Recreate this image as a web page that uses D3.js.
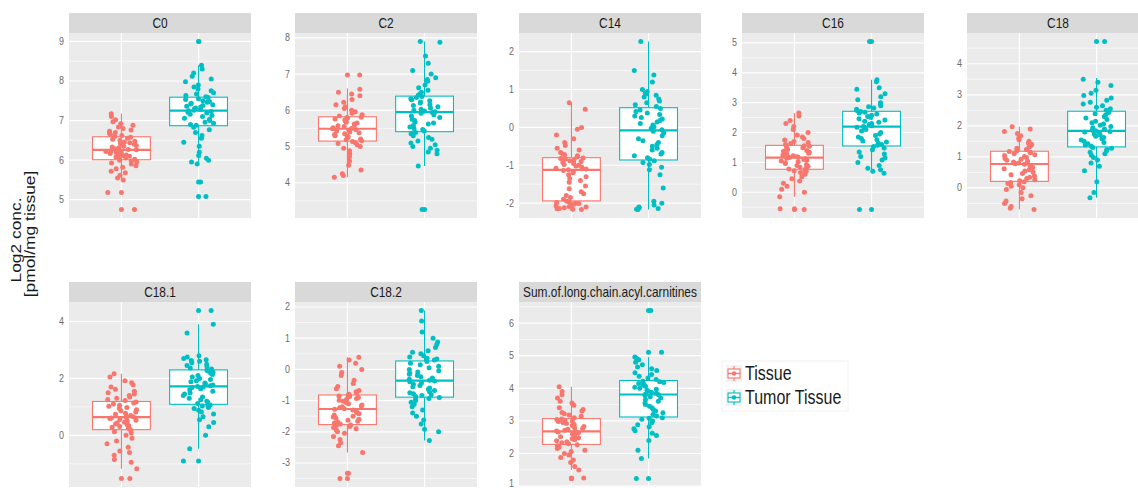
<!DOCTYPE html>
<html>
<head>
<meta charset="utf-8">
<script src="https://cdn.jsdelivr.net/npm/d3@7"></script>
<style>
  body { margin: 0; background: #fff; }
  svg text { font-family: "Liberation Sans", Arial, sans-serif; }
</style>
</head>
<body>
<svg id="chart" width="1138" height="488"></svg>
<script>
// facets and groups
var categories = ["C0", "C2", "C14", "C16", "C18", "C18.1", "C18.2", "Sum.of.long.chain.acyl.carnitines"];
var groups = ["Tissue", "Tumor Tissue"];
var groupColors = ["#F8766D", "#00BFC4"];

// y breaks per facet
var tickValues = [
  [5, 6, 7, 8, 9], [4, 5, 6, 7, 8], [-2, -1, 0, 1, 2], [0, 1, 2, 3, 4, 5],
  [0, 1, 2, 3, 4], [0, 2, 4], [-3, -2, -1, 0, 1, 2], [1, 2, 3, 4, 5, 6]
];

// box stats: [lower whisker, q1, median, q3, upper whisker]
var tissueBox = [
  [5.5, 6.01, 6.26, 6.59, 7.17], [4.15, 5.15, 5.49, 5.82, 6.6], [-2.17, -1.94, -1.12, -0.8, 0.65],
  [-0.15, 0.77, 1.16, 1.57, 2.65], [-0.7, 0.21, 0.77, 1.18, 1.97], [-1.17, 0.2, 0.64, 1.19, 2.16],
  [-2.66, -1.77, -1.27, -0.82, 0.39], [1.49, 2.28, 2.68, 3.07, 4.05]
];
var tumorBox = [
  [5.9, 6.87, 7.25, 7.59, 8.4], [4.46, 5.41, 5.95, 6.39, 7.9], [-2.17, -0.86, -0.08, 0.52, 2.27],
  [0.64, 1.55, 2.2, 2.71, 3.77], [-0.32, 1.32, 1.84, 2.47, 3.54], [-0.47, 1.09, 1.72, 2.3, 3.9],
  [-2.28, -0.89, -0.36, 0.27, 1.89], [1.85, 3.12, 3.81, 4.24, 4.96]
];

// individual observations (log2 conc.)
var tissueValues = [
  [4.75, 5.18, 5.5, 5.55, 5.62, 5.68, 5.72, 5.78, 5.82, 5.86, 5.9, 5.93, 5.96, 5.98, 6.0,
   6.02, 6.04, 6.06, 6.08, 6.1, 6.11, 6.13, 6.15, 6.17, 6.19, 6.2, 6.22, 6.24, 6.25, 6.26,
   6.27, 6.29, 6.31, 6.33, 6.35, 6.37, 6.4, 6.42, 6.44, 6.46, 6.48, 6.5, 6.53, 6.55, 6.58,
   6.6, 6.62, 6.65, 6.68, 6.7, 6.73, 6.76, 6.8, 6.84, 6.88, 6.92, 6.97, 7.02, 7.1, 7.17],
  [4.15, 4.2, 4.25, 4.35, 4.48, 4.6, 4.72, 4.8, 4.88, 4.95, 5.0, 5.05, 5.08, 5.11, 5.14,
   5.16, 5.19, 5.21, 5.24, 5.26, 5.28, 5.3, 5.33, 5.35, 5.38, 5.4, 5.43, 5.45, 5.47, 5.49,
   5.5, 5.52, 5.55, 5.57, 5.6, 5.62, 5.65, 5.67, 5.7, 5.72, 5.74, 5.76, 5.78, 5.8, 5.81,
   5.84, 5.88, 5.92, 5.96, 6.0, 6.05, 6.1, 6.15, 6.22, 6.3, 6.4, 6.45, 6.5, 6.58, 6.97],
  [-2.17, -2.16, -2.15, -2.14, -2.12, -2.1, -2.09, -2.07, -2.05, -2.03, -2.01, -2.0, -1.98, -1.96, -1.95,
   -1.9, -1.85, -1.8, -1.75, -1.7, -1.62, -1.55, -1.45, -1.4, -1.35, -1.3, -1.25, -1.2, -1.17, -1.14,
   -1.12, -1.1, -1.08, -1.05, -1.02, -1.0, -0.98, -0.95, -0.93, -0.9, -0.88, -0.86, -0.84, -0.82, -0.81,
   -0.78, -0.75, -0.72, -0.7, -0.66, -0.6, -0.55, -0.48, -0.4, -0.3, -0.2, -0.05, 0.0, 0.48, 0.65],
  [-0.58, -0.55, -0.15, 0.0, 0.1, 0.2, 0.3, 0.38, 0.45, 0.52, 0.6, 0.66, 0.7, 0.72, 0.75,
   0.78, 0.81, 0.84, 0.87, 0.9, 0.93, 0.96, 0.99, 1.02, 1.05, 1.08, 1.1, 1.12, 1.14, 1.16,
   1.17, 1.19, 1.22, 1.25, 1.28, 1.31, 1.34, 1.37, 1.4, 1.43, 1.46, 1.49, 1.52, 1.54, 1.56,
   1.6, 1.63, 1.67, 1.7, 1.75, 1.8, 1.85, 1.92, 2.0, 2.1, 2.2, 2.3, 2.4, 2.55, 2.65],
  [-0.7, -0.66, -0.6, -0.5, -0.42, -0.35, -0.25, -0.15, -0.05, 0.0, 0.05, 0.1, 0.14, 0.17, 0.2,
   0.23, 0.26, 0.3, 0.34, 0.38, 0.42, 0.46, 0.5, 0.54, 0.58, 0.62, 0.66, 0.7, 0.73, 0.76,
   0.78, 0.8, 0.83, 0.86, 0.89, 0.92, 0.95, 0.98, 1.01, 1.04, 1.07, 1.1, 1.13, 1.15, 1.17,
   1.2, 1.24, 1.28, 1.32, 1.36, 1.4, 1.45, 1.5, 1.55, 1.6, 1.68, 1.75, 1.82, 1.9, 1.97],
  [-1.52, -1.17, -0.95, -0.85, -0.7, -0.6, -0.55, -0.42, -0.3, -0.2, -0.1, 0.0, 0.08, 0.13, 0.18,
   0.22, 0.25, 0.28, 0.31, 0.34, 0.37, 0.4, 0.43, 0.46, 0.5, 0.53, 0.56, 0.59, 0.61, 0.63,
   0.65, 0.67, 0.7, 0.74, 0.78, 0.82, 0.86, 0.9, 0.94, 0.98, 1.02, 1.06, 1.1, 1.14, 1.17,
   1.22, 1.26, 1.3, 1.35, 1.4, 1.45, 1.5, 1.55, 1.62, 1.7, 1.78, 1.85, 1.92, 2.05, 2.16],
  [-3.5, -3.33, -2.66, -2.45, -2.35, -2.25, -2.15, -2.05, -2.0, -1.95, -1.9, -1.86, -1.83, -1.8, -1.78,
   -1.75, -1.72, -1.69, -1.66, -1.63, -1.6, -1.57, -1.53, -1.5, -1.46, -1.42, -1.38, -1.34, -1.3, -1.28,
   -1.26, -1.23, -1.2, -1.17, -1.14, -1.1, -1.06, -1.02, -0.99, -0.96, -0.93, -0.9, -0.87, -0.85, -0.83,
   -0.8, -0.76, -0.72, -0.68, -0.62, -0.55, -0.45, -0.35, -0.2, -0.1, 0.0, 0.1, 0.2, 0.3, 0.39],
  [1.23, 1.25, 1.49, 1.6, 1.72, 1.8, 1.88, 1.95, 2.0, 2.06, 2.1, 2.15, 2.2, 2.24, 2.27,
   2.3, 2.33, 2.36, 2.39, 2.42, 2.45, 2.48, 2.51, 2.54, 2.57, 2.6, 2.62, 2.64, 2.66, 2.68,
   2.69, 2.71, 2.74, 2.77, 2.8, 2.83, 2.86, 2.89, 2.92, 2.95, 2.98, 3.0, 3.02, 3.04, 3.06,
   3.1, 3.14, 3.18, 3.22, 3.26, 3.3, 3.35, 3.4, 3.48, 3.55, 3.6, 3.7, 3.8, 3.9, 4.05]
];
var tumorValues = [
  [5.08, 5.45, 5.9, 5.95, 6.0, 6.05, 6.12, 6.2, 6.35, 6.45, 6.55, 6.62, 6.7, 6.77, 6.83,
   6.88, 6.9, 6.93, 6.96, 7.0, 7.03, 7.06, 7.1, 7.13, 7.16, 7.19, 7.21, 7.23, 7.25, 7.26,
   7.28, 7.3, 7.32, 7.34, 7.36, 7.38, 7.4, 7.42, 7.44, 7.46, 7.48, 7.5, 7.53, 7.55, 7.58,
   7.6, 7.63, 7.67, 7.7, 7.75, 7.8, 7.85, 7.9, 7.98, 8.05, 8.12, 8.2, 8.3, 8.4, 9.0],
  [3.26, 4.46, 4.8, 4.85, 4.9, 4.95, 5.0, 5.05, 5.1, 5.15, 5.2, 5.25, 5.3, 5.35, 5.39,
   5.43, 5.47, 5.5, 5.54, 5.58, 5.62, 5.65, 5.68, 5.72, 5.75, 5.8, 5.84, 5.88, 5.92, 5.94,
   5.96, 5.98, 6.0, 6.03, 6.06, 6.1, 6.13, 6.16, 6.2, 6.23, 6.26, 6.29, 6.32, 6.35, 6.38,
   6.42, 6.46, 6.5, 6.55, 6.62, 6.7, 6.8, 6.85, 6.9, 7.0, 7.1, 7.3, 7.5, 7.88, 7.9],
  [-2.17, -2.16, -2.14, -2.12, -2.1, -2.05, -2.0, -1.95, -1.6, -1.25, -1.12, -1.05, -0.98, -0.93, -0.88,
   -0.84, -0.8, -0.75, -0.7, -0.66, -0.6, -0.55, -0.5, -0.45, -0.4, -0.35, -0.3, -0.22, -0.15, -0.1,
   -0.06, -0.02, 0.02, 0.06, 0.1, 0.14, 0.18, 0.22, 0.26, 0.3, 0.34, 0.38, 0.42, 0.46, 0.5,
   0.55, 0.6, 0.65, 0.7, 0.75, 0.8, 0.85, 0.88, 0.9, 0.95, 1.0, 1.2, 1.38, 1.5, 2.27],
  [-0.58, 0.64, 0.7, 0.75, 0.8, 0.9, 1.0, 1.08, 1.15, 1.2, 1.28, 1.35, 1.42, 1.48, 1.53,
   1.57, 1.6, 1.64, 1.68, 1.72, 1.76, 1.8, 1.85, 1.9, 1.95, 2.0, 2.05, 2.1, 2.15, 2.18,
   2.2, 2.23, 2.27, 2.3, 2.34, 2.38, 2.42, 2.46, 2.5, 2.54, 2.58, 2.62, 2.65, 2.68, 2.7,
   2.74, 2.78, 2.82, 2.86, 2.9, 2.95, 3.0, 3.1, 3.2, 3.3, 3.45, 3.5, 3.7, 3.77, 5.05],
  [-0.32, -0.15, 0.2, 0.55, 0.7, 0.8, 0.9, 0.98, 1.05, 1.1, 1.15, 1.2, 1.24, 1.28, 1.3,
   1.34, 1.38, 1.42, 1.46, 1.5, 1.54, 1.58, 1.62, 1.66, 1.7, 1.74, 1.78, 1.8, 1.82, 1.84,
   1.86, 1.9, 1.94, 1.98, 2.02, 2.06, 2.1, 2.15, 2.2, 2.25, 2.3, 2.35, 2.39, 2.43, 2.46,
   2.5, 2.55, 2.6, 2.65, 2.7, 2.76, 2.82, 2.9, 2.98, 3.05, 3.15, 3.3, 3.4, 3.5, 4.72],
  [-0.9, -0.47, 0.0, 0.3, 0.45, 0.55, 0.65, 0.75, 0.82, 0.88, 0.94, 0.98, 1.03, 1.05, 1.07,
   1.12, 1.16, 1.2, 1.25, 1.3, 1.35, 1.4, 1.45, 1.5, 1.55, 1.6, 1.64, 1.68, 1.7, 1.72,
   1.74, 1.77, 1.8, 1.84, 1.88, 1.92, 1.96, 2.0, 2.05, 2.1, 2.14, 2.18, 2.22, 2.26, 2.29,
   2.33, 2.37, 2.41, 2.45, 2.5, 2.55, 2.6, 2.63, 2.66, 2.7, 2.75, 2.8, 3.6, 3.9, 4.39],
  [-2.28, -2.0, -1.92, -1.75, -1.62, -1.5, -1.4, -1.3, -1.2, -1.12, -1.05, -1.0, -0.96, -0.93, -0.9,
   -0.87, -0.84, -0.81, -0.78, -0.75, -0.72, -0.68, -0.64, -0.6, -0.56, -0.52, -0.48, -0.44, -0.4, -0.37,
   -0.35, -0.32, -0.28, -0.24, -0.2, -0.16, -0.12, -0.08, -0.04, 0.0, 0.05, 0.1, 0.15, 0.2, 0.25,
   0.3, 0.33, 0.36, 0.4, 0.44, 0.5, 0.55, 0.6, 0.7, 0.8, 0.88, 1.0, 1.2, 1.55, 1.89],
  [1.23, 1.85, 2.1, 2.4, 2.55, 2.62, 2.7, 2.76, 2.82, 2.88, 2.94, 3.0, 3.05, 3.08, 3.1,
   3.15, 3.2, 3.25, 3.3, 3.35, 3.4, 3.45, 3.5, 3.55, 3.6, 3.65, 3.7, 3.74, 3.77, 3.8,
   3.82, 3.85, 3.88, 3.91, 3.94, 3.97, 4.0, 4.03, 4.06, 4.09, 4.12, 4.15, 4.18, 4.2, 4.22,
   4.27, 4.32, 4.37, 4.42, 4.48, 4.55, 4.6, 4.65, 4.72, 4.8, 4.88, 4.92, 4.96, 5.11, 6.39]
];

var svg = d3.select("#chart");
var panelW = 182, panelH = 185, stripH = 20;
var colX = [69, 295, 519, 742, 967];
var rowY = [13, 282];
var textScale = 0.85;

// condensed text helper (the original render is squeezed horizontally)
function label(g, x, y, str, size, anchor, color) {
  return g.append("text")
    .attr("transform", "translate(" + x + "," + y + ") scale(" + textScale + ",1)")
    .attr("text-anchor", anchor)
    .attr("font-size", size)
    .attr("fill", color)
    .text(str);
}

// deterministic jitter offset in [-1, 1]
function jit(i, k) {
  var s = Math.sin((i + 1) * 12.9898 + k * 78.233) * 43758.5453;
  return (s - Math.floor(s)) * 2 - 1;
}

categories.forEach(function (cat, ci) {
  var px = colX[ci % 5], top = rowY[Math.floor(ci / 5)];
  var g = svg.append("g").attr("transform", "translate(" + px + "," + top + ")");
  var sets = [tissueValues[ci], tumorValues[ci]];
  var boxes = [tissueBox[ci], tumorBox[ci]];

  var ext = d3.extent(sets[0].concat(sets[1]));
  var pad = (ext[1] - ext[0]) * 0.05;
  var y = d3.scaleLinear().domain([ext[0] - pad, ext[1] + pad]).range([stripH + panelH, stripH]);
  var x = d3.scalePoint().domain(groups).range([0, panelW]).padding(0.68);
  var step = x.step();

  // strip
  g.append("rect").attr("width", panelW).attr("height", stripH).attr("fill", "#D9D9D9");
  label(g, panelW / 2, 15, cat, 14, "middle", "#1A1A1A");

  // panel
  g.append("rect").attr("y", stripH).attr("width", panelW).attr("height", panelH).attr("fill", "#EBEBEB");

  var ticks = tickValues[ci];
  var dt = ticks[1] - ticks[0];
  var minor = [];
  for (var v = ticks[0] - dt / 2; v <= y.domain()[1]; v += dt) {
    if (v >= y.domain()[0]) minor.push(v);
  }
  g.selectAll(".minor").data(minor).enter().append("line")
    .attr("x1", 0).attr("x2", panelW)
    .attr("y1", function (d) { return y(d); }).attr("y2", function (d) { return y(d); })
    .attr("stroke", "#fff").attr("stroke-width", 0.6);
  g.selectAll(".major").data(ticks).enter().append("line")
    .attr("x1", 0).attr("x2", panelW)
    .attr("y1", function (d) { return y(d); }).attr("y2", function (d) { return y(d); })
    .attr("stroke", "#fff").attr("stroke-width", 1.2);
  g.selectAll(".vgrid").data(groups).enter().append("line")
    .attr("x1", function (d) { return x(d); }).attr("x2", function (d) { return x(d); })
    .attr("y1", stripH).attr("y2", stripH + panelH)
    .attr("stroke", "#fff").attr("stroke-width", 1.2);

  // y tick labels (kept inside the page at the bottom edge)
  var maxY = 488 - top - 1;
  ticks.forEach(function (t) {
    label(g, -5, Math.min(y(t) + 3.5, maxY), String(t), 10.5, "end", "#6B6B6B");
  });

  // boxplots
  groups.forEach(function (grp, k) {
    var b = boxes[k], cx = x(grp), hw = step * 0.75 / 2, col = groupColors[k];
    g.append("line").attr("x1", cx).attr("x2", cx).attr("y1", y(b[0])).attr("y2", y(b[1]))
      .attr("stroke", col).attr("stroke-width", 1.1);
    g.append("line").attr("x1", cx).attr("x2", cx).attr("y1", y(b[3])).attr("y2", y(b[4]))
      .attr("stroke", col).attr("stroke-width", 1.1);
    g.append("rect").attr("x", cx - hw).attr("width", hw * 2)
      .attr("y", y(b[3])).attr("height", y(b[1]) - y(b[3]))
      .attr("fill", "#fff").attr("stroke", col).attr("stroke-width", 1.1);
    g.append("line").attr("x1", cx - hw).attr("x2", cx + hw).attr("y1", y(b[2])).attr("y2", y(b[2]))
      .attr("stroke", col).attr("stroke-width", 2.2);
    // outliers at centre
    var outl = sets[k].filter(function (v) { return v < b[0] || v > b[4]; });
    g.selectAll(".out" + k).data(outl).enter().append("circle")
      .attr("cx", cx).attr("cy", function (d) { return y(d); })
      .attr("r", 2.5).attr("fill", col);
  });

  // jittered points
  groups.forEach(function (grp, k) {
    var cx = x(grp), col = groupColors[k];
    g.selectAll(".pt" + k).data(sets[k]).enter().append("circle")
      .attr("cx", function (d, i) { return cx + jit(i, ci * 2 + k) * step * 0.2; })
      .attr("cy", function (d) { return y(d); })
      .attr("r", 2.5).attr("fill", col);
  });
});

// y axis title
var yt = svg.append("g").attr("font-size", 15).attr("fill", "#1A1A1A").attr("text-anchor", "middle");
yt.append("text").attr("transform", "translate(21,240) rotate(-90) scale(1.16,1)").text("Log2 conc.");
yt.append("text").attr("transform", "translate(35,234) rotate(-90) scale(1.16,1)").text("[pmol/mg tissue]");

// legend
var lg = svg.append("g").attr("transform", "translate(722,361)");
lg.append("rect").attr("width", 126).attr("height", 50).attr("fill", "#fff").attr("stroke", "#F2F2F2");
groups.forEach(function (grp, k) {
  var ky = 4 + k * 24, col = groupColors[k];
  var kg = lg.append("g").attr("transform", "translate(4," + ky + ")");
  kg.append("rect").attr("width", 16).attr("height", 17).attr("fill", "#F2F2F2");
  kg.append("line").attr("x1", 8).attr("x2", 8).attr("y1", 1).attr("y2", 16).attr("stroke", col).attr("stroke-width", 1.1);
  kg.append("rect").attr("x", 2).attr("y", 4).attr("width", 12).attr("height", 9)
    .attr("fill", "#fff").attr("stroke", col).attr("stroke-width", 1.1);
  kg.append("line").attr("x1", 2).attr("x2", 14).attr("y1", 8.5).attr("y2", 8.5).attr("stroke", col).attr("stroke-width", 1.4);
  kg.append("circle").attr("cx", 8).attr("cy", 8.5).attr("r", 2.3).attr("fill", col);
  lg.append("text")
    .attr("transform", "translate(23," + (ky + 15) + ") scale(0.8,1)")
    .attr("font-size", 20).attr("fill", "#1A1A1A").text(grp);
});
</script>
</body>
</html>
